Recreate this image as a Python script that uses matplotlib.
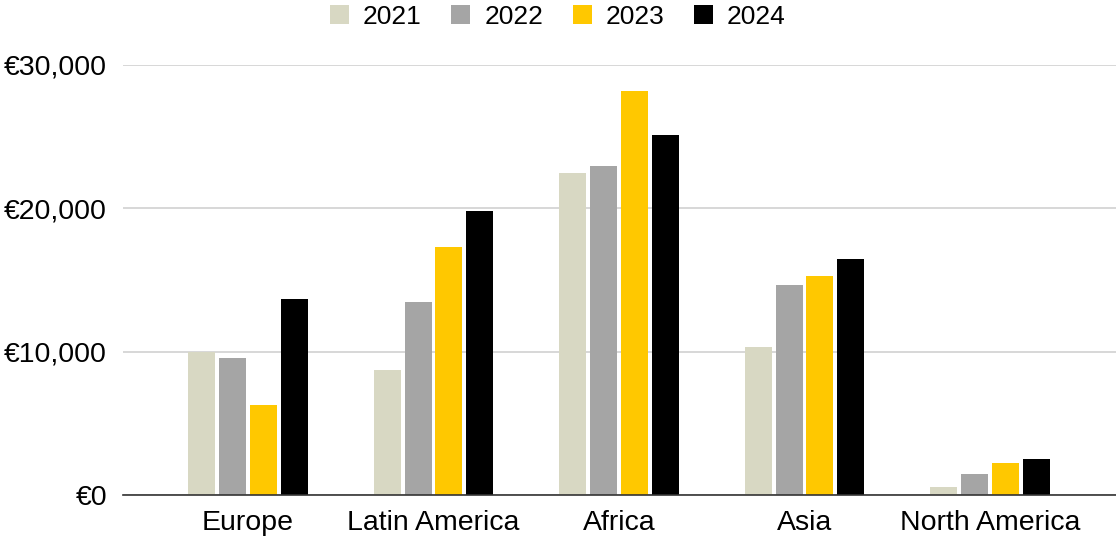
import matplotlib.pyplot as plt
import numpy as np

plt.rcParams['font.family'] = ['Liberation Sans', 'DejaVu Sans']

regions = ["Europe", "Latin America", "Africa", "Asia", "North America"]
years = ["2021", "2022", "2023", "2024"]
v2021 = [9950, 8690, 22450, 10330, 580]
v2022 = [9560, 13470, 22920, 14620, 1470]
v2023 = [6270, 17270, 28160, 15300, 2260]
v2024 = [13700, 19790, 25150, 16500, 2500]
colors = ["#d8d8c3", "#a5a5a5", "#ffc800", "#000000"]
yticks = [0, 10000, 20000, 30000]

fig = plt.figure(figsize=(11.16, 5.4), dpi=100)
ax = fig.add_axes([123 / 1116, 45 / 540, 1 - 123 / 1116, (495 - 65) / 540])

x = np.arange(len(regions))
pitch = 0.1655
width = 0.1456
for i, (yr, vals) in enumerate(zip(years, [v2021, v2022, v2023, v2024])):
    ax.bar(x + (i - 1.5) * pitch, vals, width, color=colors[i], label=yr, zorder=3)

ax.set_xlim(-0.674, 4.679)
ax.set_ylim(0, 30000)
ax.set_xticks(x)
ax.set_xticklabels(regions, fontsize=20.5)
ax.set_yticks(yticks)
ax.set_yticklabels(['€{:,}'.format(v) for v in yticks], fontsize=20.5)
ax.tick_params(axis='both', length=0)
ax.tick_params(axis='y', pad=11.5)
ax.tick_params(axis='x', pad=11)
ax.yaxis.grid(True, color='#d4d4d4', lw=1.3, zorder=0)
for s in ['top', 'right', 'left']:
    ax.spines[s].set_visible(False)
ax.spines['bottom'].set_color('#333333')
ax.spines['bottom'].set_linewidth(1.2)
ax.spines['bottom'].set_zorder(4)

fig.legend(loc='center', bbox_to_anchor=(0.5, 1 - 16.5 / 540), ncol=4, frameon=False,
           fontsize=19, handlelength=0.72, handleheight=0.72, handletextpad=0.53,
           columnspacing=1.12, borderpad=0)

fig.savefig("out.png", dpi=100)
